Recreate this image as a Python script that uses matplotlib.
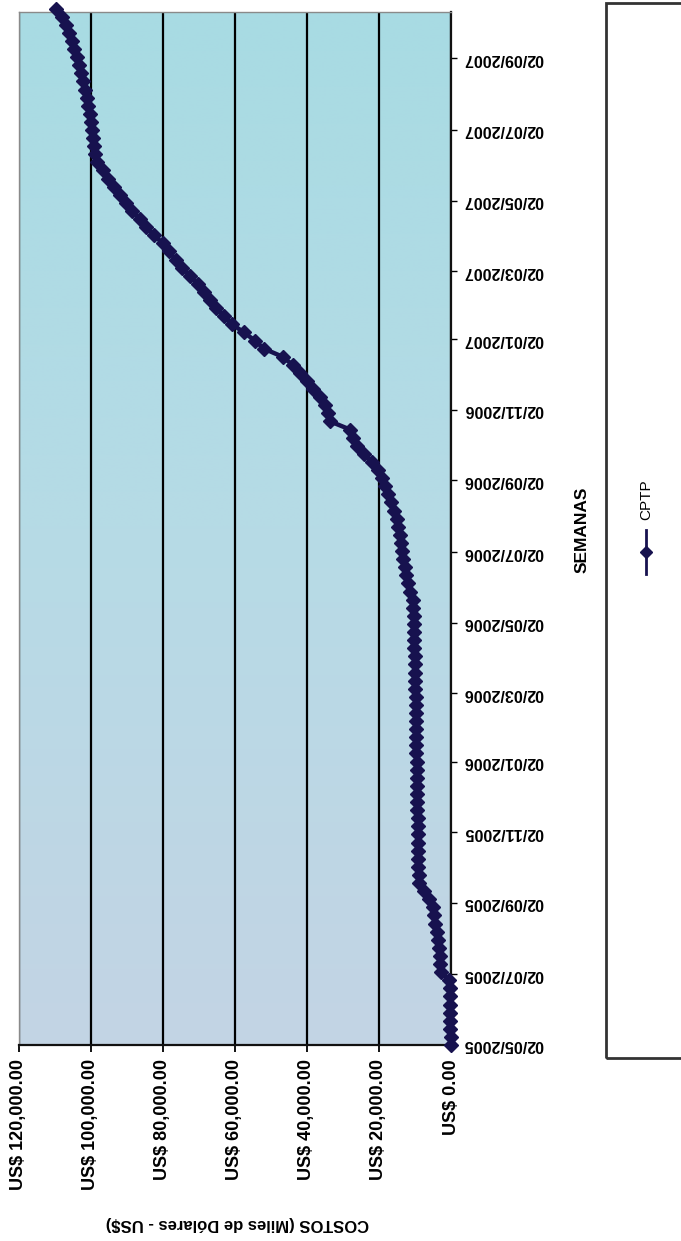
import matplotlib
matplotlib.use('Agg')
import matplotlib.pyplot as plt
import matplotlib.dates as mdates
from matplotlib.lines import Line2D
from matplotlib.patches import Rectangle
import numpy as np
import pandas as pd

plt.rcParams['font.family'] = ['Liberation Sans', 'DejaVu Sans']

# ---------------- data ----------------
start_date = '2005-05-02'
series_name = 'CPTP'
# weekly accumulated cost, thousands of US$
costs_k = [
    0.0, 0.1, 0.2, 0.3, 0.3, 0.3, 0.4, 0.4, 0.5, 2.8,
    3.0, 3.1, 3.3, 3.6, 4.0, 4.4, 4.7, 5.0, 6.2, 7.6,
    8.8, 9.0, 9.1, 9.1, 9.2, 9.2, 9.25, 9.3, 9.3, 9.35,
    9.4, 9.4, 9.45, 9.5, 9.5, 9.55, 9.6, 9.6, 9.65, 9.7,
    9.7, 9.75, 9.8, 9.85, 9.9, 9.95, 10.0, 10.05, 10.1, 10.15,
    10.2, 10.3, 10.35, 10.4, 10.5, 10.6, 11.5, 12.0, 12.4, 12.8,
    13.2, 13.5, 13.8, 14.2, 14.6, 15.0, 15.8, 16.6, 17.6, 18.4,
    19.2, 20.3, 22.0, 24.2, 26.0, 27.2, 28.0, 33.5, 34.2, 35.0,
    36.5, 38.3, 40.0, 42.0, 44.0, 46.8, 52.0, 54.5, 57.5, 60.8,
    63.0, 65.2, 67.0, 68.5, 70.3, 72.5, 74.6, 76.5, 78.3, 80.1,
    82.4, 84.6, 86.5, 88.5, 90.2, 92.0, 93.6, 95.2, 96.8, 98.3,
    98.8, 99.2, 99.5, 99.8, 100.1, 100.4, 100.8, 101.2, 101.6, 102.1,
    102.7, 103.3, 104.0, 104.7, 105.4, 106.1, 107.0, 108.0, 109.6,
]
cost_ticks = [0, 20000, 40000, 60000, 80000, 100000, 120000]
cost_tick_labels = ['US$ 0.00', 'US$ 20,000.00', 'US$ 40,000.00', 'US$ 60,000.00',
                    'US$ 80,000.00', 'US$ 100,000.00', 'US$ 120,000.00']
date_ticks = ['02/05/2005', '02/07/2005', '02/09/2005', '02/11/2005',
              '02/01/2006', '02/03/2006', '02/05/2006', '02/07/2006',
              '02/09/2006', '02/11/2006', '02/01/2007', '02/03/2007',
              '02/05/2007', '02/07/2007', '02/09/2007']
x_label = 'COSTOS (Miles de Dólares - US$)'
y_label = 'SEMANAS'

weeks = pd.date_range(start_date, periods=len(costs_k), freq='7D')
costs = np.array(costs_k) * 1000.0
tick_dates = pd.to_datetime(date_ticks, format='%d/%m/%Y')

# ---------------- figure ----------------
W, H = 681, 1241
fig = plt.figure(figsize=(W / 100, H / 100), dpi=100)
fig.patch.set_facecolor('white')
ax = fig.add_axes([19 / W, 1 - 1045 / H, 432 / W, 1033 / H])

# gradient background of plot area
n = 256
top = np.array([0xa8, 0xdb, 0xe3]) / 255
mid = np.array([0xb6, 0xdb, 0xe6]) / 255
bot = np.array([0xc3, 0xd4, 0xe4]) / 255
t = np.linspace(0, 1, n)[:, None]
grad = np.where(t < 0.5, top + (mid - top) * (t / 0.5), mid + (bot - mid) * ((t - 0.5) / 0.5))
ax.imshow(grad[:, None, :], extent=[0, 1, 0, 1], transform=ax.transAxes,
          aspect='auto', zorder=0, interpolation='bilinear')

color = '#17124f'
ax.plot(costs, mdates.date2num(weeks), color=color, lw=3.2, marker='D', ms=7,
        mec=color, mfc=color, zorder=3, clip_on=False)

ax.set_xlim(120000, 0)
y0 = mdates.date2num(pd.Timestamp(start_date))
ax.set_ylim(y0, y0 + 893)

ax.set_xticks(cost_ticks)
ax.set_xticklabels(cost_tick_labels)
ax.set_yticks(mdates.date2num(tick_dates))
ax.set_yticklabels(date_ticks)
ax.yaxis.tick_right()

ax.grid(axis='x', color='black', lw=1.6)
ax.grid(axis='y', visible=False)
ax.set_axisbelow(True)

for s in ['right', 'bottom']:
    ax.spines[s].set_color('#111111')
    ax.spines[s].set_linewidth(1.6)
for s in ['top', 'left']:
    ax.spines[s].set_color('#8a8a8a')
    ax.spines[s].set_linewidth(1.0)

ax.tick_params(axis='x', direction='out', length=5, width=1.3, pad=5,
               labelrotation=90, labelsize=13)
ax.tick_params(axis='y', direction='out', length=4, width=1.0, pad=5,
               labelrotation=180, labelsize=11.5)
for lab in ax.get_xticklabels():
    lab.set_fontweight('bold')
for lab in ax.get_yticklabels():
    lab.set_fontweight('bold')
    lab.set_va('center')

fig.text(237 / W, 1 - 1223 / H, x_label, rotation=180, ha='center', va='center',
         fontsize=12, fontweight='bold')
fig.text(582 / W, 1 - 530 / H, y_label, rotation=90, ha='center', va='center',
         fontsize=12.5, fontweight='bold')

# legend box
fig.add_artist(Rectangle((606 / W, 1 - 1058 / H), 0.3, (1058 - 3) / H,
                         transform=fig.transFigure, fill=False, ec='#333333', lw=2))
fig.add_artist(Line2D([646 / W, 646 / W], [1 - 574 / H, 1 - 530 / H],
                      transform=fig.transFigure, color=color, lw=2))
fig.add_artist(Line2D([646 / W], [1 - 552 / H], transform=fig.transFigure,
                      color=color, marker='D', ms=6, lw=0))
fig.text(646 / W, 1 - 500 / H, series_name, rotation=90, ha='center', va='center',
         fontsize=11)

fig.savefig('out.png', dpi=100)
